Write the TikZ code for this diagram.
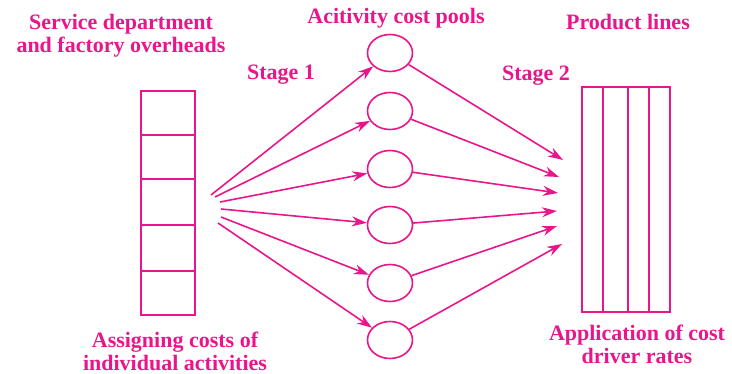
\documentclass[tikz,border=0pt]{standalone}
\usepackage{fontspec}
\setmainfont{Liberation Serif}
\usetikzlibrary{arrows.meta,shapes.geometric}
\definecolor{pinkline}{RGB}{232,22,138}
\def\poolw{45pt}
\def\poolh{37pt}
\tikzset{
  pool/.style={ellipse, draw=pinkline, line width=1.6pt, minimum width=\poolw, minimum height=\poolh, inner sep=0pt},
  colbox/.style={rectangle, draw=pinkline, line width=1.6pt, inner sep=0pt},
  lbl/.style={text=pinkline, font=\fontsize{22}{23}\selectfont\bfseries, align=center, inner sep=0pt},
  flow/.style={-{Stealth[length=15pt,width=10pt]}, draw=pinkline, line width=1.6pt}
}

\begin{document}
\begin{tikzpicture}[x=1pt,y=-1pt]
\useasboundingbox (0,0) rectangle (732,374);
% overhead box, five rows
\node[colbox, minimum width=54pt, minimum height=224pt] (acts) at (168,203) {};
\draw[pinkline, line width=1.6pt] (acts.west |- 0,135) -- (acts.east |- 0,135) (acts.west |- 0,179) -- (acts.east |- 0,179);
\draw[pinkline, line width=1.6pt] (acts.west |- 0,225) -- (acts.east |- 0,225) (acts.west |- 0,271) -- (acts.east |- 0,271);
% product lines box, four columns
\node[colbox, minimum width=88pt, minimum height=225pt] (prod) at (626,199.5) {};
\draw[pinkline, line width=1.6pt] (603,0 |- prod.north) -- (603,0 |- prod.south) (628,0 |- prod.north) -- (628,0 |- prod.south) (649,0 |- prod.north) -- (649,0 |- prod.south);
% activity cost pools
\node[pool] (c1) at (390,53) {};
\node[pool] (c2) at (390,111) {};
\node[pool] (c3) at (390,169) {};
\node[pool] (c4) at (390,225) {};
\node[pool] (c5) at (390,283) {};
\node[pool] (c6) at (390,340) {};
% stage 1 fan
\coordinate (s1) at (211,195); \coordinate (s2) at (215,197); \coordinate (s3) at (220,202);
\coordinate (s4) at (221,209); \coordinate (s5) at (221,217); \coordinate (s6) at (218,223);
\draw[flow] (s1) -- (c1); \draw[flow] (s2) -- (c2); \draw[flow] (s3) -- (c3);
\draw[flow] (s4) -- (c4); \draw[flow] (s5) -- (c5); \draw[flow] (s6) -- (c6);
% stage 2 fan
\coordinate (t1) at (563,160); \coordinate (t2) at (559,177); \coordinate (t3) at (558,193);
\coordinate (t4) at (557,211); \coordinate (t5) at (557,226); \coordinate (t6) at (562,244);
\draw[flow] (c1) -- (t1); \draw[flow] (c2) -- (t2); \draw[flow] (c3) -- (t3);
\draw[flow] (c4) -- (t4); \draw[flow] (c5) -- (t5); \draw[flow] (c6) -- (t6);
% labels
\node[lbl] (overheads) at (121,35.5) {Service department\\and factory overheads};
\node[lbl] (poolsl) at (396,18) {Acitivity cost pools};
\node[lbl] (prodl) at (628,22) {Product lines};
\node[lbl] (stage1) at (281,75) {Stage 1};
\node[lbl] (stage2) at (536,76) {Stage 2};
\node[lbl] (assign) at (175,351.5) {Assigning costs of\\individual activities};
\node[lbl] (apply) at (637,344.5) {Application of cost\\driver rates};
\end{tikzpicture}
\end{document}
